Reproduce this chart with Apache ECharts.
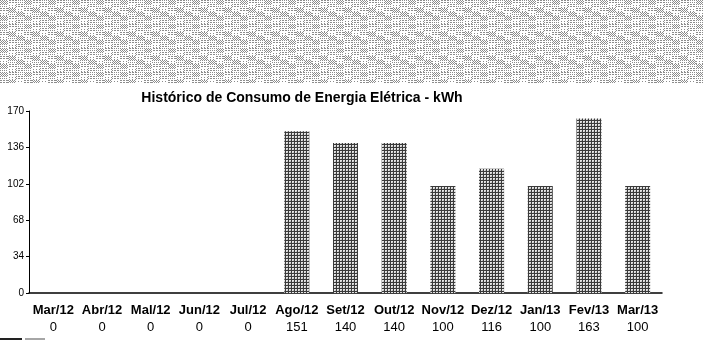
<!DOCTYPE html>
<html>
<head>
<meta charset="utf-8">
<script src="https://cdn.jsdelivr.net/npm/echarts@6/dist/echarts.min.js"></script>
<style>
  html, body { margin: 0; padding: 0; background: #fff; }
  #chart { width: 703px; height: 341px; }
</style>
</head>
<body>
<div id="chart"></div>
<script>
// Monthly electricity consumption (kWh)
const months = ['Mar/12', 'Abr/12', 'Mal/12', 'Jun/12', 'Jul/12', 'Ago/12', 'Set/12',
                'Out/12', 'Nov/12', 'Dez/12', 'Jan/13', 'Fev/13', 'Mar/13'];
const consumo = [0, 0, 0, 0, 0, 151, 140, 140, 100, 116, 100, 163, 100];
const yTicks = [0, 34, 68, 102, 136, 170];

// Fine mesh fill used for the bars
function meshTile() {
  const c = document.createElement('canvas');
  c.width = 3; c.height = 3;
  const g = c.getContext('2d');
  g.fillStyle = '#e4e4e4';
  g.fillRect(0, 0, 3, 3);
  g.fillStyle = '#3a3a3a';
  g.fillRect(0, 0, 3, 1);
  g.fillRect(0, 0, 1, 3);
  g.fillStyle = '#bdbdbd';
  g.fillRect(2, 2, 1, 1);
  return c;
}

// Light dotted texture for the header band
function dotTile() {
  const n = 24;
  const c = document.createElement('canvas');
  c.width = n; c.height = n;
  const g = c.getContext('2d');
  g.fillStyle = '#ffffff';
  g.fillRect(0, 0, n, n);
  for (let y = 0; y < n; y++) {
    for (let x = 0; x < n; x++) {
      const patch = ((x >> 3) * 2 + (y >> 2) + (x >> 4)) % 4;
      let on = false;
      if (patch === 0) on = (x + y) % 2 === 0;
      else if (patch === 1) on = x % 2 === 0 && y % 2 === 0;
      else if (patch === 2) on = y % 2 === 0 && x % 3 !== 2;
      else on = x % 3 === 0 && y % 2 === 1;
      if (on) {
        g.fillStyle = '#8c8c8c';
        g.fillRect(x, y, 1, 1);
      }
    }
  }
  return c;
}

const chart = echarts.init(document.getElementById('chart'), null, { renderer: 'canvas' });

const option = {
  backgroundColor: '#ffffff',
  animation: false,
  textStyle: { fontFamily: 'Liberation Sans, Arial, sans-serif' },
  title: {
    text: 'Histórico de Consumo de Energia Elétrica - kWh',
    left: 297,
    top: 86,
    textAlign: 'center',
    textStyle: {
      fontFamily: 'Liberation Sans, Arial, sans-serif',
      fontWeight: 'bold',
      fontSize: 14,
      color: '#000'
    }
  },
  graphic: [
    {
      type: 'rect',
      left: 0, top: 0,
      shape: { width: 703, height: 83 },
      style: { fill: { image: dotTile(), repeat: 'repeat' } },
      silent: true
    },
    {
      type: 'line',
      shape: { x1: 0, y1: 339, x2: 22, y2: 339 },
      style: { stroke: '#222', lineWidth: 2 },
      silent: true
    },
    {
      type: 'line',
      shape: { x1: 25, y1: 339, x2: 45, y2: 339 },
      style: { stroke: '#888', lineWidth: 1.5 },
      silent: true
    }
  ],
  grid: { left: 29, right: 41, top: 111, bottom: 48, containLabel: false },
  xAxis: {
    type: 'category',
    data: months,
    boundaryGap: true,
    axisLine: { show: true, lineStyle: { color: '#000', width: 1.5 } },
    axisTick: { show: false },
    axisLabel: {
      interval: 0,
      margin: 9,
      formatter: function (value, idx) {
        return '{m|' + value + '}\n{v|' + consumo[idx] + '}';
      },
      rich: {
        m: { fontFamily: 'Liberation Sans, Arial, sans-serif', fontWeight: 'bold', fontSize: 13, color: '#000', lineHeight: 17 },
        v: { fontFamily: 'Liberation Sans, Arial, sans-serif', fontSize: 13, color: '#000', lineHeight: 17 }
      }
    }
  },
  yAxis: {
    type: 'value',
    min: yTicks[0],
    max: yTicks[yTicks.length - 1],
    interval: 34,
    axisLine: { show: true, lineStyle: { color: '#000', width: 1 } },
    axisTick: { show: true, length: 3, lineStyle: { color: '#000' } },
    splitLine: { show: false },
    axisLabel: {
      margin: 5,
      fontSize: 10,
      color: '#000',
      fontFamily: 'Liberation Sans, Arial, sans-serif'
    }
  },
  series: [
    {
      type: 'bar',
      data: consumo,
      barWidth: 25,
      itemStyle: { color: { image: meshTile(), repeat: 'repeat' } }
    }
  ]
};

chart.setOption(option);
</script>
</body>
</html>
